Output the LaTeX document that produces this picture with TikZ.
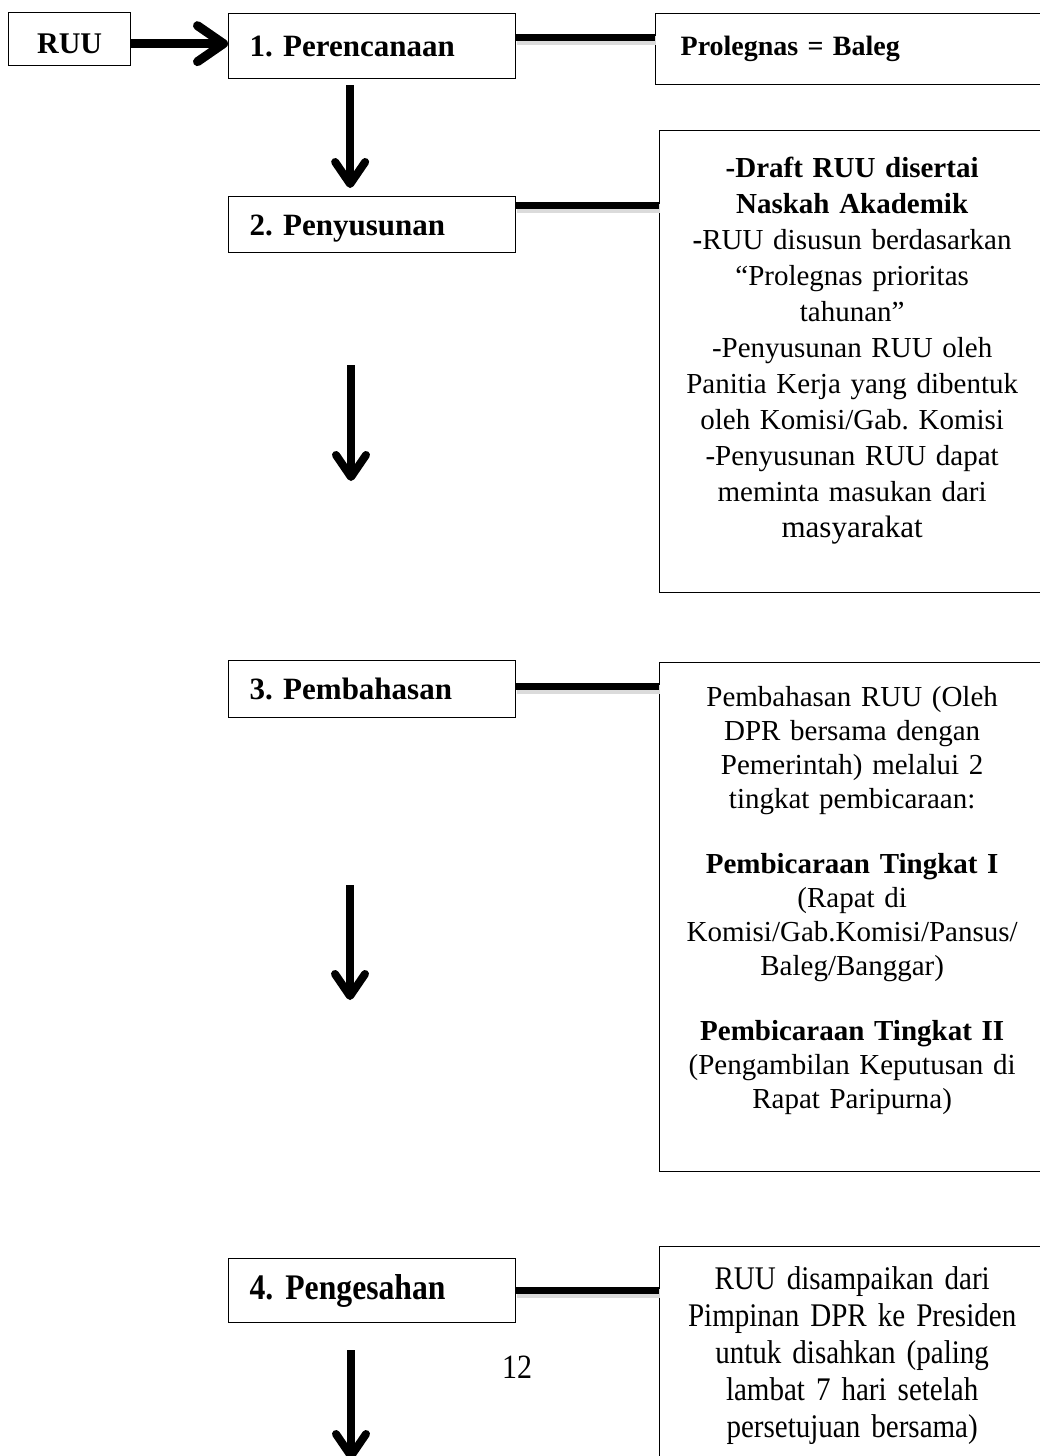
\documentclass[tikz,border=0pt]{standalone}
\usepackage{fontspec}
\setmainfont{Liberation Serif}
\newfontfamily\tallfont[FakeStretch=0.88]{Liberation Serif}
\usetikzlibrary{arrows.meta}
\frenchspacing

\begin{document}
\begin{tikzpicture}[x=1pt, y=-1pt,
    tahap/.style={draw, line width=1.3pt, anchor=north west, minimum width=287pt,
        text width=245pt, inner xsep=21pt, align=left,
        font=\fontsize{31}{36}\selectfont\bfseries},
    ket/.style={draw, line width=1.3pt, anchor=north west, minimum width=385pt,
        text width=371pt, inner xsep=7pt, align=center,
        font=\fontsize{29}{36}\selectfont},
    link/.style={line width=7.5pt,
        preaction={draw=black!14, line width=9pt, transform canvas={shift={(1pt,-2.5pt)}}}},
    flow/.style={line width=8pt, -{Straight Barb[length=22pt,width=30pt,round]},
        preaction={draw=black!14, transform canvas={shift={(1.5pt,-2.5pt)}}}}]
    \useasboundingbox (0,0) rectangle (1039,1456);

    % tahapan
    \node[draw, line width=1.3pt, anchor=north west, minimum width=122pt, minimum height=53pt,
        font=\fontsize{30}{36}\selectfont\bfseries] (ruu) at (8,12) {\rule{0pt}{29pt}RUU};
    \node[tahap, minimum height=65pt] (rencana) at (228,13) {1. Perencanaan};
    \node[tahap, minimum height=56pt] (susun) at (228,196) {\rule{0pt}{28pt}2. Penyusunan};
    \node[tahap, minimum height=57pt] (bahas) at (228,660) {3. Pembahasan};
    \node[tahap, minimum height=64pt, font=\tallfont\fontsize{36}{40}\selectfont\bfseries] (sah) at (228,1258) {4. Pengesahan};

    % keterangan
    \node[ket, minimum height=71pt, text width=360pt, inner xsep=25pt, align=left,
        font=\fontsize{28}{34}\selectfont\bfseries] (prolegnas) at (655,13) {Prolegnas = Baleg\rule[-7pt]{0pt}{7pt}};
    \node[ket, minimum height=462pt] (infosusun) at (659,130) {\textbf{-Draft RUU disertai}\\
        \textbf{Naskah Akademik}\\
        \textbf{-}RUU disusun berdasarkan\\
        “Prolegnas prioritas\\
        tahunan”\\
        -Penyusunan RUU oleh\\
        Panitia Kerja yang dibentuk\\
        oleh Komisi/Gab. Komisi\\
        -Penyusunan RUU dapat\\
        meminta masukan dari\\
        {\fontsize{31}{36}\selectfont masyarakat}\rule[-28pt]{0pt}{28pt}};
    \node[ket, minimum height=509pt, font=\fontsize{29}{34}\selectfont] (infobahas) at (659,662) {Pembahasan RUU (Oleh\\
        DPR bersama dengan\\
        Pemerintah) melalui 2\\
        tingkat pembicaraan:\\[31pt]
        \textbf{Pembicaraan Tingkat I}\\
        (Rapat di\\
        Komisi/Gab.Komisi/Pansus/\\
        Baleg/Banggar)\\[31pt]
        \textbf{Pembicaraan Tingkat II}\\
        (Pengambilan Keputusan di\\
        Rapat Paripurna)\rule[-40pt]{0pt}{40pt}};
    \node[ket, minimum height=240pt, font=\tallfont\fontsize{33}{37}\selectfont] (infosah) at (659,1246) {RUU disampaikan dari\\
        Pimpinan DPR ke Presiden\\
        untuk disahkan (paling\\
        lambat 7 hari setelah\\
        persetujuan bersama)\rule[-30pt]{0pt}{30pt}};

    \node[font=\tallfont\fontsize{34}{36}\selectfont] (hal) at (517,1367) {12};

    % garis penghubung
    \draw[link] ([yshift=8.5pt]rencana.east) -- ([yshift=8.5pt]rencana.east -| prolegnas.west);
    \draw[link] ([yshift=19pt]susun.east) -- ([yshift=19pt]susun.east -| infosusun.west);
    \draw[link] ([yshift=2.5pt]bahas.east) -- ([yshift=2.5pt]bahas.east -| infobahas.west);
    \draw[link] (sah.east) -- (sah.east -| infosah.west);

    % panah
    \draw[flow, line width=9pt, -{Straight Barb[length=26pt,width=36pt,round]}]
        ([yshift=-4.5pt]ruu.east) -- ([yshift=-4.5pt]ruu.east -| rencana.west);
    \draw[flow] ([xshift=-22pt,yshift=-6pt]rencana.south) -- ([xshift=-22pt,yshift=8pt]susun.north);

    \coordinate (a2) at (351,365);
    \coordinate (b2) at (351,481);
    \coordinate (a3) at (350,885);
    \coordinate (b3) at (350,1000);
    \coordinate (a4) at (351,1350);
    \coordinate (b4) at (351,1460);
    \draw[flow] (a2) -- (b2);
    \draw[flow] (a3) -- (b3);
    \draw[flow] (a4) -- (b4);
\end{tikzpicture}
\end{document}
